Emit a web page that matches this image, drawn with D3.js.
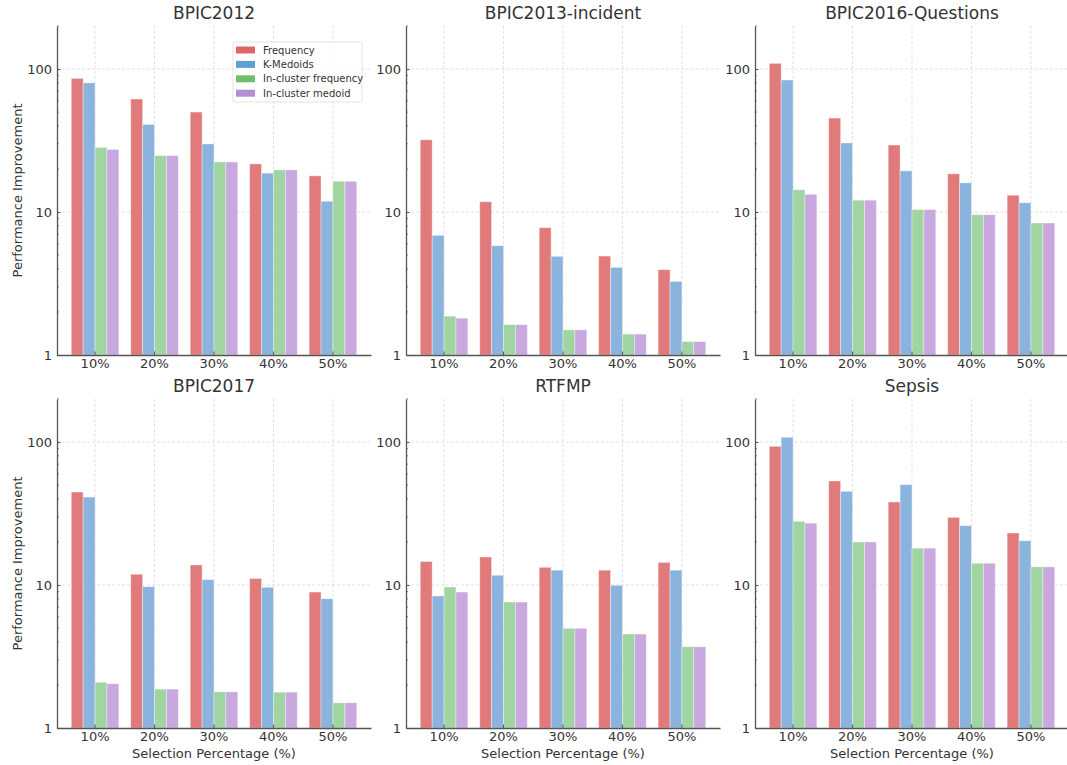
<!DOCTYPE html>
<html>
<head>
<meta charset="utf-8">
<script src="https://cdn.jsdelivr.net/npm/d3@7"></script>
<style>
  html, body { margin: 0; padding: 0; background: #fff; }
  svg { display: block; font-family: "DejaVu Sans", sans-serif; }
</style>
</head>
<body>
<svg id="chart" width="1067" height="765"></svg>
<script>
// ---- data ----
const categories = ["10%", "20%", "30%", "40%", "50%"];
const seriesNames = ["Frequency", "K-Medoids", "In-cluster frequency", "In-cluster medoid"];
const datasets = ["BPIC2012", "BPIC2013-incident", "BPIC2016-Questions", "BPIC2017", "RTFMP", "Sepsis"];

const bpic2012Frequency = [86, 61.7, 50, 21.7, 17.9];
const bpic2012KMedoids = [80, 41, 29.9, 18.7, 11.9];
const bpic2012InFreq = [28.3, 24.8, 22.4, 19.7, 16.4];
const bpic2012InMedoid = [27.4, 24.8, 22.4, 19.7, 16.4];

const bpic2013Frequency = [32, 11.8, 7.77, 4.92, 3.95];
const bpic2013KMedoids = [6.87, 5.81, 4.9, 4.1, 3.27];
const bpic2013InFreq = [1.87, 1.63, 1.5, 1.4, 1.24];
const bpic2013InMedoid = [1.81, 1.63, 1.5, 1.4, 1.24];

const bpic2016Frequency = [109.6, 45.4, 29.4, 18.5, 13.1];
const bpic2016KMedoids = [83.8, 30.4, 19.4, 16.0, 11.6];
const bpic2016InFreq = [14.3, 12.1, 10.4, 9.57, 8.38];
const bpic2016InMedoid = [13.3, 12.1, 10.4, 9.57, 8.38];

const bpic2017Frequency = [44.7, 11.9, 13.8, 11.1, 8.93];
const bpic2017KMedoids = [41.2, 9.73, 10.9, 9.64, 8.02];
const bpic2017InFreq = [2.09, 1.87, 1.79, 1.78, 1.5];
const bpic2017InMedoid = [2.04, 1.87, 1.79, 1.78, 1.5];

const rtfmpFrequency = [14.6, 15.7, 13.3, 12.7, 14.4];
const rtfmpKMedoids = [8.38, 11.7, 12.7, 9.95, 12.7];
const rtfmpInFreq = [9.68, 7.6, 4.98, 4.54, 3.7];
const rtfmpInMedoid = [8.93, 7.6, 4.98, 4.54, 3.7];

const sepsisFrequency = [93.3, 53.4, 38.1, 29.7, 23.1];
const sepsisKMedoids = [108, 45.2, 50.3, 26.0, 20.4];
const sepsisInFreq = [27.9, 20.0, 18.1, 14.2, 13.4];
const sepsisInMedoid = [27.1, 20.0, 18.1, 14.2, 13.4];

const yTickValues = [1, 10, 100];
const yDomain = [1, 200];

const panelSeries = [
  [bpic2012Frequency, bpic2012KMedoids, bpic2012InFreq, bpic2012InMedoid],
  [bpic2013Frequency, bpic2013KMedoids, bpic2013InFreq, bpic2013InMedoid],
  [bpic2016Frequency, bpic2016KMedoids, bpic2016InFreq, bpic2016InMedoid],
  [bpic2017Frequency, bpic2017KMedoids, bpic2017InFreq, bpic2017InMedoid],
  [rtfmpFrequency, rtfmpKMedoids, rtfmpInFreq, rtfmpInMedoid],
  [sepsisFrequency, sepsisKMedoids, sepsisInFreq, sepsisInMedoid]
];

// ---- styles ----
const barColors = ["#e17b7b", "#8ab4de", "#a0d4a0", "#c9a8e0"];
const legendColors = ["#e06666", "#5f9fd3", "#6cbf6c", "#b28ed4"];
const textColor = "#333";
const spineColor = "#555";

const svg = d3.select("#chart");

const colLeft = [57, 406, 755];
const panelW = 314;
const rowTop = [26, 399];
const panelH = 329;

datasets.forEach((name, i) => {
  const col = i % 3, row = Math.floor(i / 3);
  const g = svg.append("g").attr("transform", `translate(${colLeft[col]},${rowTop[row]})`);

  const x = d3.scaleBand().domain(categories).range([0, panelW]).paddingInner(0.2).paddingOuter(0.24);
  const xs = d3.scaleBand().domain(seriesNames).range([0, x.bandwidth()]).padding(0);
  const y = d3.scaleLog().domain(yDomain).range([panelH, 0]);

  const centre = c => x(c) + x.bandwidth() / 2;

  // grid
  const grid = g.append("g").attr("class", "grid");
  grid.selectAll("line.gx").data(categories).join("line")
    .attr("x1", centre).attr("x2", centre).attr("y1", 0).attr("y2", panelH)
    .attr("stroke", "#d6d6d6").attr("stroke-width", 0.7).attr("stroke-dasharray", "3,2");
  grid.selectAll("line.gy").data(yTickValues.slice(1)).join("line")
    .attr("x1", 0).attr("x2", panelW).attr("y1", d => y(d)).attr("y2", d => y(d))
    .attr("stroke", "#d6d6d6").attr("stroke-width", 0.7).attr("stroke-dasharray", "3,2");

  // bars
  const series = panelSeries[i];
  seriesNames.forEach((s, si) => {
    g.append("g").selectAll("rect").data(series[si]).join("rect")
      .attr("x", (d, k) => x(categories[k]) + xs(s))
      .attr("width", xs.bandwidth())
      .attr("y", d => y(d))
      .attr("height", d => panelH - y(d))
      .attr("fill", barColors[si])
      .attr("stroke", "rgba(255,255,255,0.45)")
      .attr("stroke-width", 0.8);
  });

  // x axis
  const xAxis = d3.axisBottom(x).tickSizeInner(-3.5).tickSizeOuter(0).tickPadding(4);
  const gx = g.append("g").attr("transform", `translate(0,${panelH})`).call(xAxis);
  gx.select(".domain").attr("stroke", spineColor).attr("stroke-width", 1.3);
  gx.selectAll(".tick line").attr("stroke", spineColor);
  gx.selectAll(".tick text").attr("fill", textColor).attr("font-size", 13)
    .attr("font-family", "DejaVu Sans");

  // y axis major
  const yAxis = d3.axisLeft(y).tickValues(yTickValues).tickFormat(d3.format("d"))
    .tickSizeInner(-3.5).tickSizeOuter(0).tickPadding(5);
  const gy = g.append("g").call(yAxis);
  gy.select(".domain").attr("stroke", spineColor).attr("stroke-width", 1.3);
  gy.selectAll(".tick line").attr("stroke", spineColor);
  gy.selectAll(".tick text").attr("fill", textColor).attr("font-size", 13)
    .attr("font-family", "DejaVu Sans");

  // y minor ticks
  const minor = y.ticks().filter(v => yTickValues.indexOf(v) < 0);
  g.append("g").selectAll("line").data(minor).join("line")
    .attr("x1", 0).attr("x2", 2).attr("y1", d => y(d)).attr("y2", d => y(d))
    .attr("stroke", spineColor).attr("stroke-width", 0.7);

  // title
  g.append("text").attr("x", panelW / 2).attr("y", -7).attr("text-anchor", "middle")
    .attr("font-size", 17).attr("fill", textColor).text(name);

  if (col === 0) {
    g.append("text").attr("transform", `translate(-35,${panelH / 2}) rotate(-90)`)
      .attr("text-anchor", "middle").attr("font-size", 13).attr("fill", textColor)
      .text("Performance Improvement");
  }
  if (row === 1) {
    g.append("text").attr("x", panelW / 2).attr("y", panelH + 30).attr("text-anchor", "middle")
      .attr("font-size", 13).attr("fill", textColor).text("Selection Percentage (%)");
  }

  if (i === 0) {
    const lg = g.append("g").attr("transform", `translate(${233 - colLeft[0]},${42 - rowTop[0]})`);
    lg.append("rect").attr("width", 129).attr("height", 60).attr("rx", 2)
      .attr("fill", "rgba(255,255,255,0.85)").attr("stroke", "#dcdcdc").attr("stroke-width", 0.8);
    seriesNames.forEach((s, si) => {
      const yy = 8 + si * 14.4;
      lg.append("rect").attr("x", 3).attr("y", yy - 3.5).attr("width", 19).attr("height", 7)
        .attr("fill", legendColors[si]);
      lg.append("text").attr("x", 30).attr("y", yy).attr("dy", "0.35em")
        .attr("font-size", 10).attr("fill", textColor).text(s);
    });
  }
});
</script>
</body>
</html>
